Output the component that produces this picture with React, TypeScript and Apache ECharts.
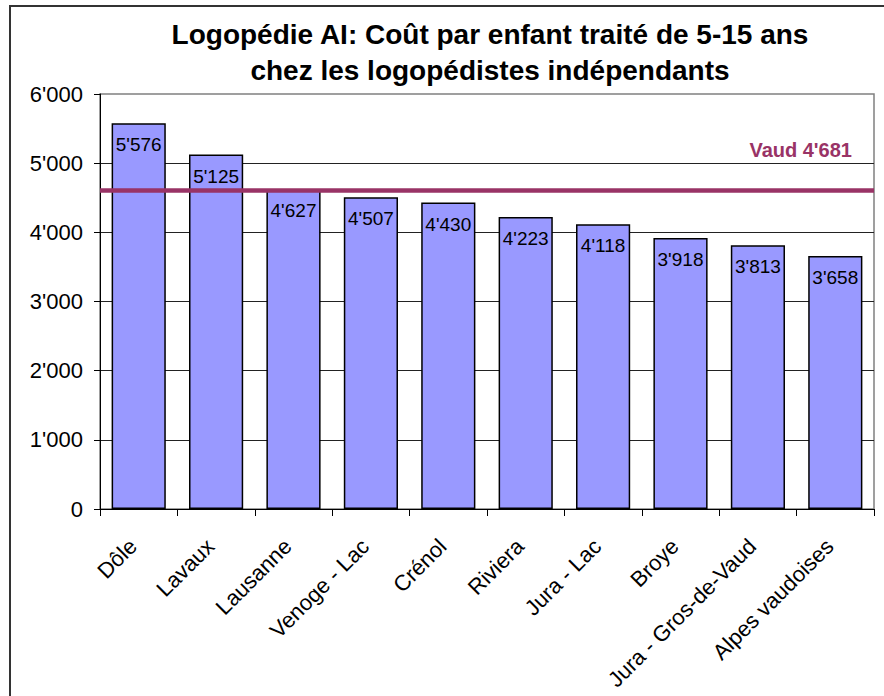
import React, { useEffect, useRef } from "react";
import * as echarts from "echarts";

const categories = [
  "Dôle",
  "Lavaux",
  "Lausanne",
  "Venoge - Lac",
  "Crénol",
  "Riviera",
  "Jura - Lac",
  "Broye",
  "Jura - Gros-de-Vaud",
  "Alpes vaudoises",
];
const values = [5576, 5125, 4627, 4507, 4430, 4223, 4118, 3918, 3813, 3658];
const vaudLineValue = 4605;
const vaudLabel = "Vaud 4'681";
const titleLines = [
  "Logopédie AI: Coût par enfant traité de 5-15 ans",
  "chez les logopédistes indépendants",
];
const yTicks = { min: 0, max: 6000, interval: 1000 };

const fmt = (n: number) => String(n).replace(/\B(?=(\d{3})+(?!\d))/g, "'");
const FONT = "'Liberation Sans', Arial, sans-serif";

export default function App() {
  const ref = useRef<HTMLDivElement>(null);
  useEffect(() => {
    if (!ref.current) return;
    const chart = echarts.init(ref.current, undefined, { renderer: "svg" });
    chart.setOption({
      animation: false,
      backgroundColor: "#fff",
      textStyle: { fontFamily: FONT },
      graphic: [
        {
          type: "rect",
          shape: { x: 10, y: 6, width: 1000, height: 1000 },
          style: { fill: "none", stroke: "#333", lineWidth: 2 },
          silent: true,
        },
        {
          type: "text",
          x: 490,
          y: 16,
          style: {
            text: titleLines.join("\n"),
            textAlign: "center",
            textVerticalAlign: "top",
            fontFamily: FONT,
            fontWeight: "bold",
            fontSize: 28,
            lineHeight: 36,
            fill: "#000",
          },
        },
      ],
      grid: {
        left: 100,
        right: 10,
        top: 94,
        bottom: 187,
        show: true,
        borderColor: "#808080",
        borderWidth: 1.5,
        backgroundColor: "#fff",
      },
      xAxis: {
        type: "category",
        data: categories,
        axisLine: { show: true, lineStyle: { color: "#000", width: 1 } },
        axisTick: { show: true, length: 7, lineStyle: { color: "#000" } },
        axisLabel: {
          interval: 0,
          rotate: 45,
          fontSize: 22,
          color: "#000",
          margin: 28,
          padding: [0, 8, 0, 0],
          fontFamily: FONT,
        },
      },
      yAxis: {
        type: "value",
        min: yTicks.min,
        max: yTicks.max,
        interval: yTicks.interval,
        axisLine: { show: true, lineStyle: { color: "#000", width: 1 } },
        axisTick: { show: true, length: 6, lineStyle: { color: "#000" } },
        axisLabel: {
          fontSize: 22,
          color: "#000",
          margin: 17,
          fontFamily: FONT,
          formatter: (v: number) => fmt(v),
        },
        splitLine: {
          show: true,
          showMaxLine: false,
          lineStyle: { color: "#222", width: 1 },
        },
      },
      series: [
        {
          type: "bar",
          data: values,
          barCategoryGap: "30%",
          itemStyle: { color: "#9999FF", borderColor: "#000", borderWidth: 1.5 },
          label: {
            show: true,
            position: "insideTop",
            distance: 12,
            fontSize: 19,
            color: "#000",
            fontFamily: FONT,
            formatter: (p: any) => fmt(p.value),
          },
          markLine: {
            silent: true,
            symbol: ["none", "none"],
            lineStyle: { color: "#993366", width: 4.5, type: "solid" },
            label: {
              show: true,
              position: "insideEndTop",
              distance: [22, 30],
              formatter: vaudLabel,
              color: "#993366",
              fontWeight: "bold",
              fontSize: 20,
              fontFamily: FONT,
            },
            data: [{ yAxis: vaudLineValue }],
          },
        },
      ],
    });
    return () => chart.dispose();
  }, []);
  return (
    <div
      ref={ref}
      style={{ position: "absolute", left: 0, top: 0, width: 884, height: 696 }}
    />
  );
}
